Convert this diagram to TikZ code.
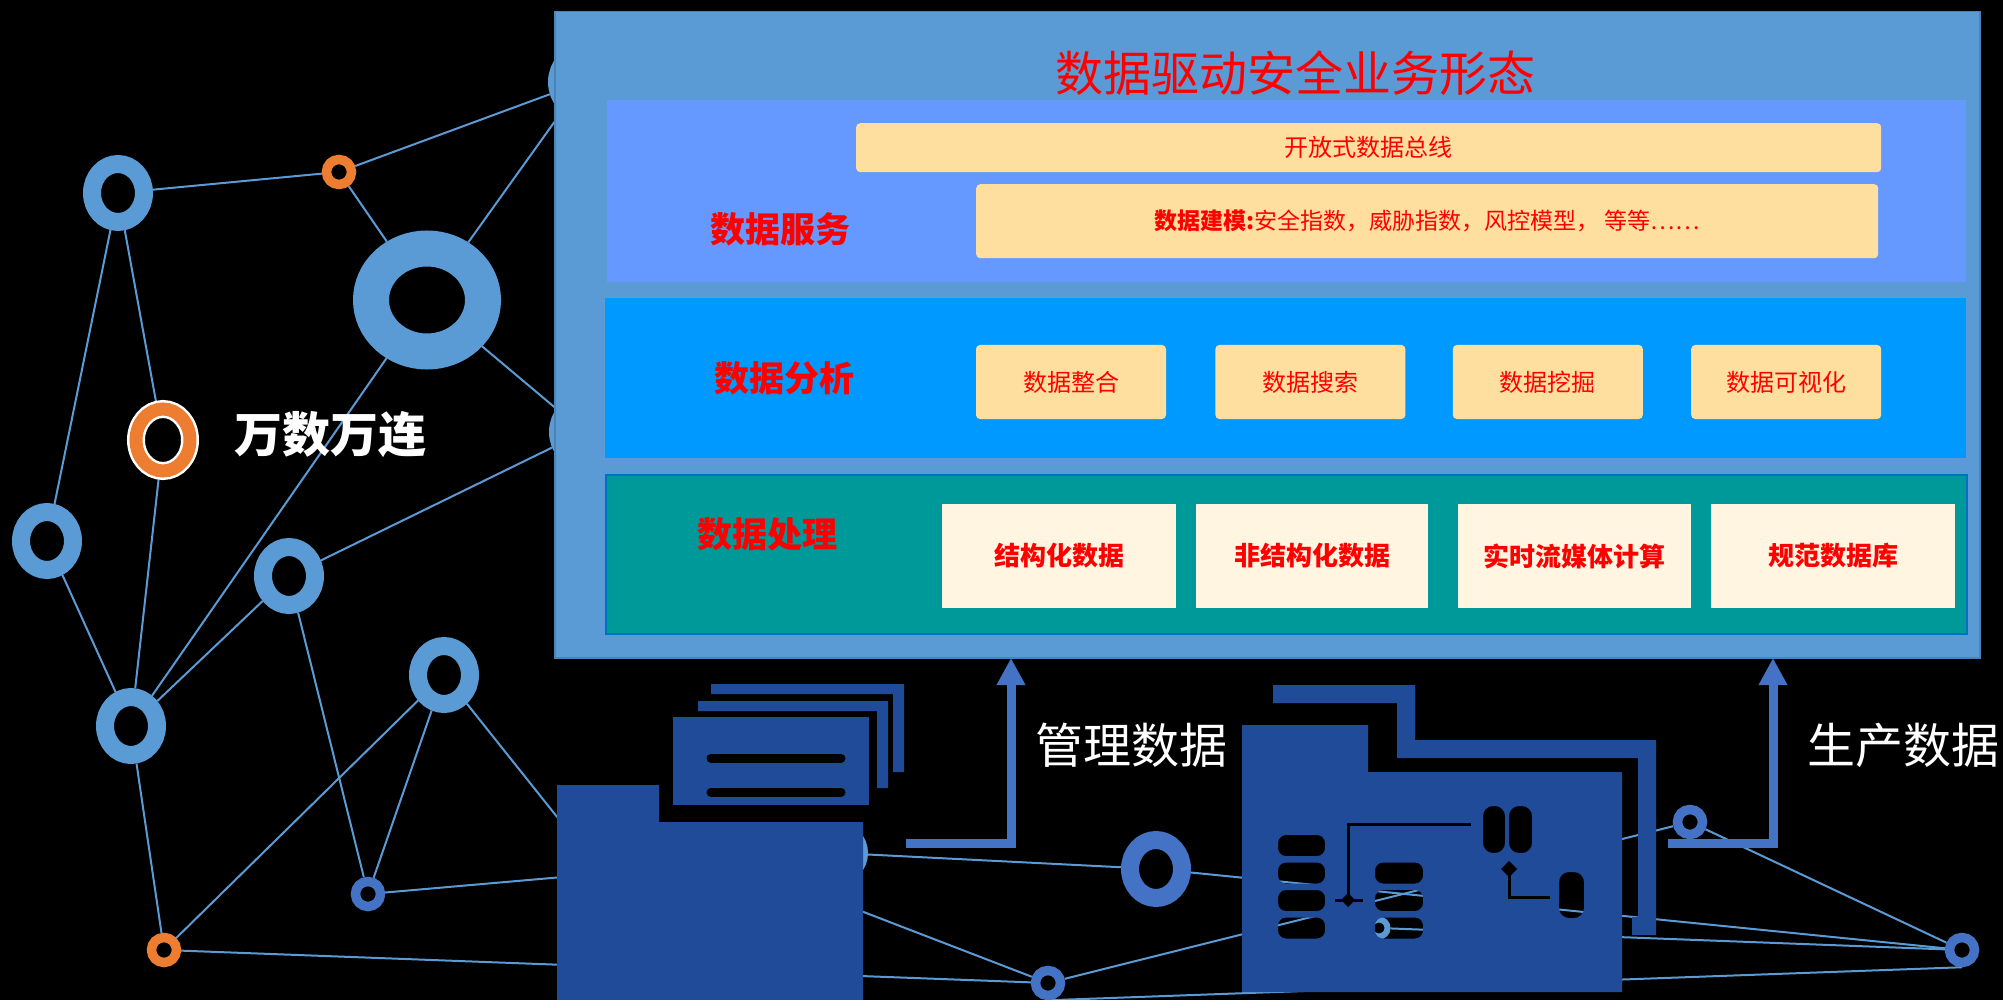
\documentclass[tikz,border=0pt]{standalone}
\usepackage{fontspec}
\usepackage{tikz}
\usetikzlibrary{arrows.meta,positioning,shapes.geometric}
\newfontfamily\cjk{Noto Sans CJK SC}
\definecolor{netblue}{RGB}{91,155,213}
\definecolor{deepring}{RGB}{68,114,196}
\definecolor{ringorange}{RGB}{237,125,49}
\definecolor{iconblue}{RGB}{31,75,153}
\definecolor{servicebg}{RGB}{102,153,255}
\definecolor{analysisbg}{RGB}{0,153,255}
\definecolor{processbg}{RGB}{0,153,153}
\definecolor{processedge}{RGB}{0,112,192}
\definecolor{softorange}{RGB}{255,223,159}
\definecolor{softcream}{RGB}{255,245,225}
\definecolor{labelred}{RGB}{255,0,0}
\pgfdeclarelayer{canvas}
\pgfdeclarelayer{wires}
\pgfsetlayers{canvas,wires,main}
\tikzset{
  ring/.style={ellipse, draw=#1, line width=18pt, minimum width=52pt, minimum height=58pt},
  ring/.default=netblue,
  smallring/.style={circle, draw=#1, line width=9.5pt, minimum size=25pt},
  smallring/.default=deepring,
  net/.style={draw=netblue, line width=2pt},
  band/.style={rectangle, anchor=north west},
  block/.style={rectangle, rounded corners=4pt, fill=softorange, text=labelred,
                font=\cjk\fontsize{24}{28}\selectfont},
  cell/.style={block, minimum width=190pt, minimum height=74pt},
  blockcream/.style={rectangle, fill=softcream, text=labelred, minimum height=104pt,
                font=\cjk\bfseries\fontsize{26}{30}\selectfont},
  layerlabel/.style={text=labelred, font=\cjk\bfseries\fontsize{35}{40}\selectfont},
  caption/.style={text=white, font=\cjk\fontsize{48}{56}\selectfont},
  icon/.style={fill=iconblue},
  flow/.style={-{Triangle[width=27pt,length=27pt]}, line width=9pt, draw=deepring},
}

\begin{document}
\begin{tikzpicture}[x=1pt, y=-1pt, every node/.style={inner sep=0pt}]
\useasboundingbox (0,0) rectangle (2003,1000);
\begin{pgfonlayer}{canvas}
  \fill[black] (0,0) rectangle (2003,1000);
\end{pgfonlayer}

% ---- network rings ----
\node[ring] (ra) at (118,193) {};
\node[smallring=ringorange] (rb) at (339,172) {};
\node[ring, line width=36pt, minimum width=112pt, minimum height=103pt] (hub) at (427,300) {};
\node[ring, draw=white, line width=2.5pt, double=ringorange, double distance=13pt,
      minimum width=54pt, minimum height=62pt] (tag) at (163,440) {};
\node[ring] (re) at (47,541) {};
\node[ring] (rf) at (131,726) {};
\node[ring] (rg) at (289,576) {};
\node[ring] (rh) at (444,675) {};
\node[smallring] (ri) at (368,894) {};
\node[smallring=ringorange] (rj) at (164,950) {};
\node[ring=deepring] (rm) at (1156,869) {};
\node[smallring] (rn) at (1048,983) {};
\node[smallring] (rp) at (1690,822) {};
\node[smallring] (rq) at (1962,950) {};
% these sit behind the frame and the icons
\node[ring] (rk) at (584,432) {};
\node[ring] (rl) at (583,82) {};
\node[ring, line width=16pt, minimum width=44pt, minimum height=46pt] (ro) at (838,853) {};
\node[smallring=netblue, line width=6pt, minimum size=17pt] (rr) at (1379,928) {};
\coordinate (foldera) at (640,921);
\coordinate (folderb) at (700,849);

% ---- links ----
\begin{pgfonlayer}{wires}
\foreach \a/\b in {ra/rb, ra/re, ra/tag, rb/rl, rb/hub, hub/rl, hub/rk, hub/rf, tag/rf,
                   re/rf, rf/rg, rf/rj, rg/rk, rg/ri, rh/rj, rh/ri, rh/foldera, ri/ro,
                   rj/rn, ro/rm, folderb/rn, rm/rq, rn/rp, rp/rq, rr/rq}
  \draw[net] (\a) -- (\b);
\draw[net] (rn.south) -- (rq.south);
\end{pgfonlayer}

% ---- layered platform ----
\node[band, fill=netblue, draw=netblue!85!black, line width=1.5pt,
      minimum width=1425pt, minimum height=646pt] (frame) at (554,11) {};
\node[text=labelred, font=\cjk\fontsize{48}{56}\selectfont] (title) at (1295,73) {数据驱动安全业务形态};

\node[band, fill=servicebg, minimum width=1359pt, minimum height=182pt] (service) at (607,100) {};
\node[block, anchor=north west, minimum width=1025pt, minimum height=49pt] (bus) at (856,123) {开放式数据总线};
\node[block, anchor=north west, minimum width=902pt, minimum height=74pt,
      font=\cjk\fontsize{23}{28}\selectfont] (model) at (976,184)
      {\textbf{数据建模:}安全指数，威胁指数，风控模型， 等等……};
\node[layerlabel] (servicelabel) at (780,229) {数据服务};

\node[band, fill=analysisbg, minimum width=1361pt, minimum height=160pt] (analysis) at (605,298) {};
\node[layerlabel] (analysislabel) at (784,378) {数据分析};
\node[cell] (merge) at (1071,382) {数据整合};
\node[cell, right=49pt of merge] (search) {数据搜索};
\node[cell, right=47pt of search] (mine) {数据挖掘};
\node[cell, right=48pt of mine] (visual) {数据可视化};

\node[band, fill=processbg, draw=processedge, line width=2pt,
      minimum width=1361pt, minimum height=159pt] (process) at (605,474) {};
\node[layerlabel] (processlabel) at (767,534) {数据处理};
\node[blockcream, minimum width=234pt] (struct) at (1059,556) {结构化数据};
\node[blockcream, minimum width=232pt, right=20pt of struct] (unstruct) {非结构化数据};
\node[blockcream, minimum width=233pt, right=29pt of unstruct] (stream) {实时流媒体计算};
\node[blockcream, minimum width=244pt, right=20pt of stream] (norm) {规范数据库};

% ---- folder with stacked sheets ----
\fill[icon] (557,785) -- (659,785) -- (659,822) -- (863,822) -- (863,1000) -- (557,1000) -- cycle;
\fill[icon] (673,717) rectangle (869,805);
\fill[icon] (698,701) -- (888,701) -- (888,788) -- (877,788) -- (877,711) -- (698,711) -- cycle;
\fill[icon] (711,684) -- (904,684) -- (904,772) -- (893,772) -- (893,694) -- (711,694) -- cycle;
\draw[black, line width=9pt, line cap=round] (711,758) -- (841,758) (711,792) -- (841,792);

% ---- factory ----
\fill[icon] (1273,685) -- (1415,685) -- (1415,740) -- (1656,740) -- (1656,935) -- (1632,935)
  -- (1632,917) -- (1638,917) -- (1638,758) -- (1397,758) -- (1397,703) -- (1273,703) -- cycle;
\fill[icon, even odd rule] (1242,725) -- (1368,725) -- (1368,772) -- (1622,772) -- (1622,992)
  -- (1242,992) -- cycle
  [rounded corners=8pt]
  \foreach \y in {835,862.5,890,917.5} {(1278,\y) rectangle ++(47,21)}
  \foreach \y in {862.5,890,917.5} {(1375,\y) rectangle ++(48,21)}
  [rounded corners=10pt]
  (1483,806) rectangle (1505,853) (1509,806) rectangle (1532,853)
  (1559,872) rectangle (1584,918);
\draw[black, line width=3pt] (1471,824) -- (1348,824) -- (1348,900) (1335,900) -- (1363,900);
\fill[black] (1348,893) -- (1355,900) -- (1348,907) -- (1341,900) -- cycle;
\draw[black, line width=3pt] (1509,869) -- (1509,897) -- (1550,897);
\fill[black] (1509,861) -- (1517,869) -- (1509,877) -- (1501,869) -- cycle;

% ---- data flows up into the platform ----
\coordinate (mgmtfoot) at (906,843);
\coordinate (mgmtin) at (1011,658);
\coordinate (prodfoot) at (1668,843);
\coordinate (prodin) at (1773,658);
\draw[flow] (mgmtfoot) -| (mgmtin);
\draw[flow] (prodfoot) -| (prodin);
\node[caption] (mgmtlabel) at (1131,745) {管理数据};
\node[caption] (prodlabel) at (1903,745) {生产数据};
\node[caption, font=\cjk\bfseries\fontsize{48}{56}\selectfont] (tagline) at (330,435) {万数万连};
\end{tikzpicture}
\end{document}
